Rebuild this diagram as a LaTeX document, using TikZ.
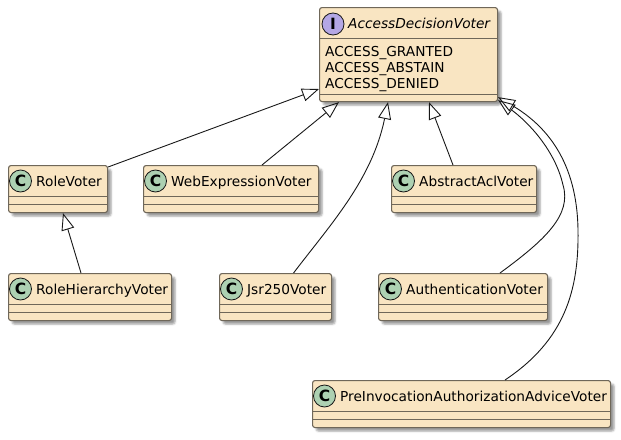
\documentclass[tikz,border=0pt]{standalone}
\usepackage{fontspec}
\setmainfont{DejaVu Sans}
\usetikzlibrary{arrows.meta,shadows.blur}
\definecolor{boxfill}{HTML}{F9E5C2}
\definecolor{boxline}{HTML}{6F6759}
\definecolor{edgecol}{HTML}{181818}
\definecolor{cfill}{HTML}{ADD1B2}
\definecolor{ifill}{HTML}{B4A7E5}
\begin{document}
\begin{tikzpicture}[x=1pt,y=-1pt,
  cls/.style={draw=boxline, line width=1.1pt, fill=boxfill, rounded corners=2.5pt,
    anchor=north west, inner sep=0pt, minimum height=47pt,
    blur shadow={shadow xshift=3.5pt, shadow yshift=-3.5pt, shadow blur radius=2pt, shadow opacity=40}},
  sepline/.style={draw=boxline, line width=1pt},
  icon/.style={circle, draw=edgecol, line width=0.8pt, minimum size=22pt, inner sep=0pt,
    font=\fontsize{15.5}{15.5}\selectfont\bfseries},
  lbl/.style={anchor=base west, inner sep=0pt, font=\fontsize{13.7}{16}\selectfont, text=black},
  ext/.style={draw=edgecol, line width=0.9pt, -{Triangle[open, length=17pt, width=13pt]}}
]
\useasboundingbox (0,0) rectangle (621,439);

% interface
\node[cls, minimum width=178pt, minimum height=94pt] (adv) at (319,7) {};
\draw[sepline] ([yshift=-31pt]adv.north west) -- ([yshift=-31pt]adv.north east);
\draw[sepline] ([yshift=-87pt]adv.north west) -- ([yshift=-87pt]adv.north east);
\node[icon, fill=ifill] (advi) at ([xshift=14pt,yshift=-17pt]adv.north west) {I};
\node[lbl, font=\fontsize{13.7}{16}\selectfont\itshape] (advl) at ([xshift=29pt,yshift=-21pt]adv.north west) {AccessDecisionVoter};
\node[lbl] (f1) at ([xshift=6pt,yshift=-49pt]adv.north west) {ACCESS\_GRANTED};
\node[lbl] (f2) at ([xshift=6pt,yshift=-65pt]adv.north west) {ACCESS\_ABSTAIN};
\node[lbl] (f3) at ([xshift=6pt,yshift=-81pt]adv.north west) {ACCESS\_DENIED};

% classes
\foreach \n/\x/\y/\w/\t in {rv/8/165/99/RoleVoter, wev/143/165/175/WebExpressionVoter,
  aav/391/165/145/AbstractAclVoter, rhv/8/273/163/RoleHierarchyVoter,
  jsr/219/273/112/Jsr250Voter, auth/378/273/169/AuthenticationVoter,
  piv/312/380/298/PreInvocationAuthorizationAdviceVoter}{
  \node[cls, minimum width=\w pt] (\n) at (\x,\y) {};
  \draw[sepline] ([yshift=-31pt]\n.north west) -- ([yshift=-31pt]\n.north east);
  \draw[sepline] ([yshift=-39pt]\n.north west) -- ([yshift=-39pt]\n.north east);
  \node[icon, fill=cfill] (\n i) at ([xshift=12.5pt,yshift=-16pt]\n.north west) {C};
  \node[lbl] (\n l) at ([xshift=28pt,yshift=-21pt]\n.north west) {\t};
}

% generalisations
\draw[ext] ([yshift=-2pt]rv.north east) -- ([yshift=-82pt]adv.north west);
\draw[ext] ([xshift=119pt]wev.north west) -- ([xshift=20pt]adv.south west);
\draw[ext] ([xshift=18pt]jsr.north) .. controls (330,225) and (372,180) .. ([xshift=69pt]adv.south west);
\draw[ext] ([xshift=62pt]aav.north west) -- ([xshift=110pt]adv.south west);
\draw[ext] ([xshift=122pt]auth.north west) .. controls (545,240) and (572,215) .. (563,185)
  .. controls (555,150) and (528,122) .. ([yshift=2pt]adv.south east);
\draw[ext] ([xshift=193pt]piv.north west) .. controls (565,340) and (579,290) .. (578,230)
  .. controls (577,160) and (545,125) .. ([yshift=5pt]adv.south east);
\draw[ext] ([xshift=73pt]rhv.north west) -- ([xshift=55pt]rv.south west);
\end{tikzpicture}
\end{document}
